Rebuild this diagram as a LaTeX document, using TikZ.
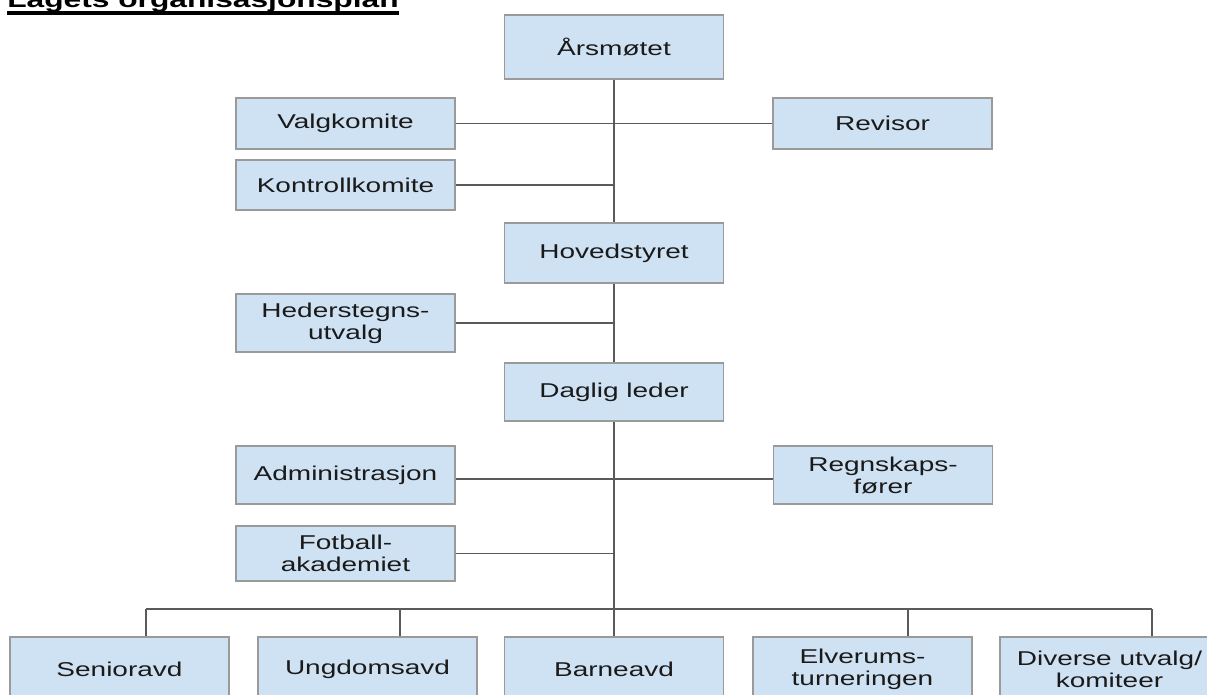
\documentclass[tikz,border=0pt]{standalone}
\usepackage{fontspec}
\setmainfont{Liberation Sans}[FakeStretch=1.4]
\definecolor{boxfill}{HTML}{CFE2F3}
\definecolor{boxdraw}{HTML}{9A9A9A}
\definecolor{linecol}{HTML}{5A5A5A}
\definecolor{txtcol}{HTML}{1A1A1A}
\tikzset{
  orgbox/.style={draw=boxdraw, line width=0.9pt, fill=boxfill, text=txtcol,
    minimum width=164.25pt, align=center, inner sep=0pt,
    font=\fontsize{15pt}{16.5pt}\selectfont},
  conn/.style={draw=linecol, line width=1pt}
}
\begin{document}
\begin{tikzpicture}[x=0.75pt, y=-0.75pt]
\useasboundingbox (0,0) rectangle (1207,694);
% title
\node[anchor=base west, inner sep=0pt, font=\fontsize{17pt}{19pt}\selectfont\bfseries] (title) at (7,7) {Lagets organisasjonsplan};
\draw[line width=3pt] ([yshift=-4.5pt]title.base west) -- ([yshift=-4.5pt]title.base east);
% boxes
\node[orgbox, minimum height=48pt] (ars) at (614,47) {Årsmøtet};
\node[orgbox, minimum height=38.25pt] (valg) at (345.5,123.5) {Valgkomite};
\node[orgbox, minimum height=38.25pt] (rev) at (882.5,123.5) {Revisor};
\node[orgbox, minimum height=37.5pt] (kontroll) at (345.5,185) {Kontrollkomite};
\node[orgbox, minimum height=45pt] (hoved) at (614,253) {Hovedstyret};
\node[orgbox, minimum height=43.5pt] (heder) at (345.5,323) {Hederstegns-\\utvalg};
\node[orgbox, minimum height=43.5pt] (daglig) at (614,392) {Daglig leder};
\node[orgbox, minimum height=43.5pt] (admin) at (345.5,475) {Administrasjon};
\node[orgbox, minimum height=43.5pt] (regn) at (883,475) {Regnskaps-\\fører};
\node[orgbox, minimum height=41.25pt] (fotball) at (345.5,553.5) {Fotball-\\akademiet};
\node[orgbox, minimum height=48.75pt] (senior) at (119.5,669.5) {Senioravd};
\node[orgbox, minimum height=48.75pt] (ungdom) at (367.5,669.5) {Ungdomsavd};
\node[orgbox, minimum height=48.75pt] (barne) at (614,669.5) {Barneavd};
\node[orgbox, minimum height=48.75pt] (elv) at (862.5,669.5) {Elverums-\\turneringen};
\node[orgbox, minimum height=48.75pt] (div) at (1109.5,669.5) {Diverse utvalg/\\komiteer};
% bus coordinates
\coordinate (bmid) at (614,609);
\coordinate (b1) at (146,609);
\coordinate (b2) at (400,609);
\coordinate (b4) at (908,609);
\coordinate (b5) at (1152,609);
% connectors
\draw[conn] (ars.south) -- (hoved.north);
\draw[conn] (hoved.south) -- (daglig.north);
\draw[conn] (daglig.south) -- (bmid);
\draw[conn] (valg.east) -- (rev.west);
\draw[conn] (kontroll.east) -- (kontroll.east -| ars.south);
\draw[conn] (heder.east) -- (heder.east -| hoved.south);
\draw[conn] ([yshift=-3pt]admin.east) -- ([yshift=-3pt]regn.west);
\draw[conn] (fotball.east) -- (fotball.east -| daglig.south);
\draw[conn] (b1) -- (b5);
\draw[conn] (b1) -- (b1 |- senior.north);
\draw[conn] (b2) -- (b2 |- ungdom.north);
\draw[conn] (bmid) -- (barne.north);
\draw[conn] (b4) -- (b4 |- elv.north);
\draw[conn] (b5) -- (b5 |- div.north);
\end{tikzpicture}
\end{document}
